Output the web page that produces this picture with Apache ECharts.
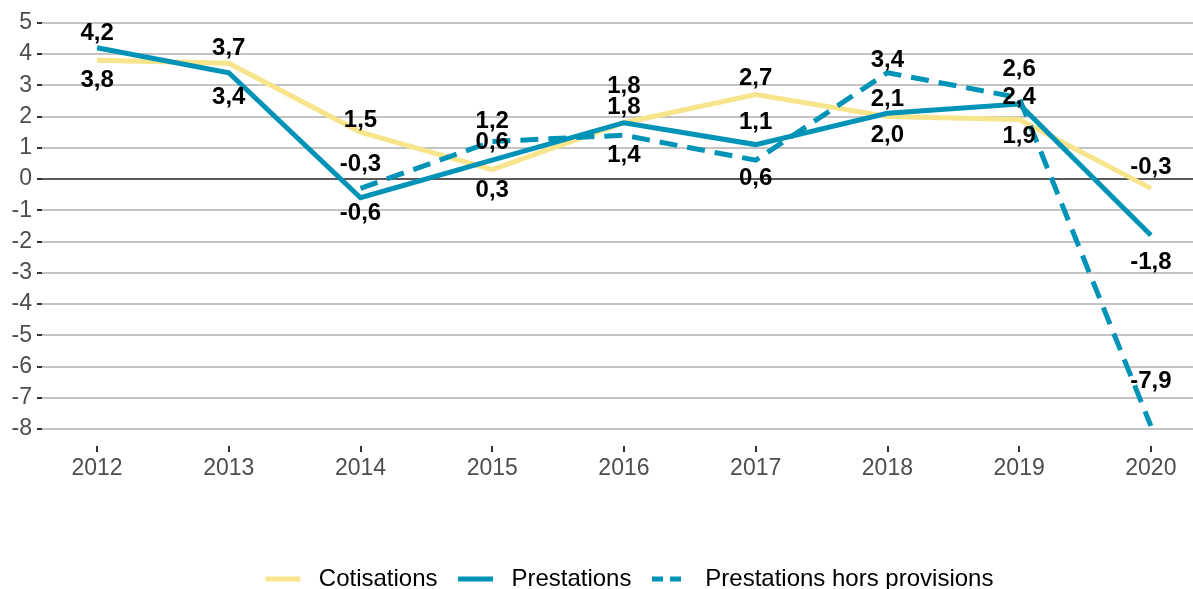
<!DOCTYPE html>
<html>
<head>
<meta charset="utf-8">
<script src="https://cdn.jsdelivr.net/npm/echarts@6/dist/echarts.min.js"></script>
<style>
  html, body { margin: 0; padding: 0; background: #fff; }
  #chart { width: 1193px; height: 589px; }
</style>
</head>
<body>
<div id="chart"></div>
<script>
const years = [2012, 2013, 2014, 2015, 2016, 2017, 2018, 2019, 2020];
const cotisations = [3.8, 3.7, 1.5, 0.3, 1.8, 2.7, 2.0, 1.9, -0.3];
const prestations = [4.2, 3.4, -0.6, 0.6, 1.8, 1.1, 2.1, 2.4, -1.8];
const horsProvisions = [null, null, -0.3, 1.2, 1.4, 0.6, 3.4, 2.6, -7.9];

// label nudge: px from point to label centre (negative = above)
const cotisationsNudge = [20, -15, -12, 21, -36, -16, 19, 17, -21];
const prestationsNudge = [-14, 25, 16, -18, -15, -22, -14, -7, 27];
const horsNudge = [0, 0, -24, -20, 20, 18, -12, -28, -44];

const YELLOW = '#f7e48b';
const BLUE = '#0093b8';
const FONT = '"Liberation Sans", Arial, sans-serif';

function fmt(v) {
  return v.toFixed(1).replace('.', ',');
}

function lineSeries(name, values, nudge, color, type) {
  return {
    name: name,
    type: 'line',
    data: values.map((v, i) => [years[i], v === null ? '-' : v]),
    symbol: 'circle',
    symbolSize: 2,
    showSymbol: true,
    lineStyle: { color: color, width: 5, type: type || 'solid', cap: 'butt', join: 'miter' },
    itemStyle: { color: 'rgba(0,0,0,0)', borderWidth: 0 },
    label: {
      show: true,
      position: 'inside',
      align: 'center',
      verticalAlign: 'middle',
      color: '#000',
      fontWeight: 'bold',
      fontSize: 24,
      fontFamily: FONT,
      formatter: p => fmt(p.value[1])
    },
    labelLayout: params => ({ dy: nudge[params.dataIndex], hideOverlap: false }),
    emphasis: { disabled: true },
    animation: false
  };
}

// colour per split line, from -8 up to 5; the zero line is darker
const splitColors = [];
for (let v = -8; v <= 5; v++) splitColors.push(v === 0 ? '#5a5a5a' : '#c4c4c4');

const chart = echarts.init(document.getElementById('chart'));
chart.setOption({
  animation: false,
  grid: { left: 42, right: 0, top: 22.7, bottom: 160, containLabel: false },
  xAxis: {
    type: 'value',
    min: 2011.582,
    max: 2020.32,
    offset: 17,
    axisLine: { show: false, onZero: false },
    splitLine: { show: false },
    axisTick: { show: true, length: 6, customValues: years, lineStyle: { color: '#333', width: 2 } },
    axisLabel: {
      customValues: years,
      margin: 11,
      color: '#4d4d4d',
      fontSize: 23,
      fontFamily: FONT,
      formatter: v => String(v)
    }
  },
  yAxis: {
    type: 'value',
    min: -8,
    max: 5,
    interval: 1,
    axisLine: { show: false },
    axisTick: { show: true, length: 5, lineStyle: { color: '#333', width: 2 } },
    axisLabel: { margin: 10, color: '#4d4d4d', fontSize: 23, fontFamily: FONT },
    splitLine: { show: true, lineStyle: { color: splitColors, width: 2 } }
  },
  legend: {
    left: 258,
    bottom: -7,
    itemWidth: 35,
    itemHeight: 6,
    itemGap: 18,
    lineStyle: { width: 5 },
    data: [
      'Cotisations',
      'Prestations',
      { name: 'Prestations hors provisions', lineStyle: { width: 5, type: [11, 7] } }
    ],
    formatter: name => '  ' + name,
    textStyle: { color: '#000', fontSize: 24, fontFamily: FONT }
  },
  series: [
    lineSeries('Cotisations', cotisations, cotisationsNudge, YELLOW),
    lineSeries('Prestations', prestations, prestationsNudge, BLUE),
    lineSeries('Prestations hors provisions', horsProvisions, horsNudge, BLUE, [18, 10])
  ]
});
</script>
</body>
</html>
